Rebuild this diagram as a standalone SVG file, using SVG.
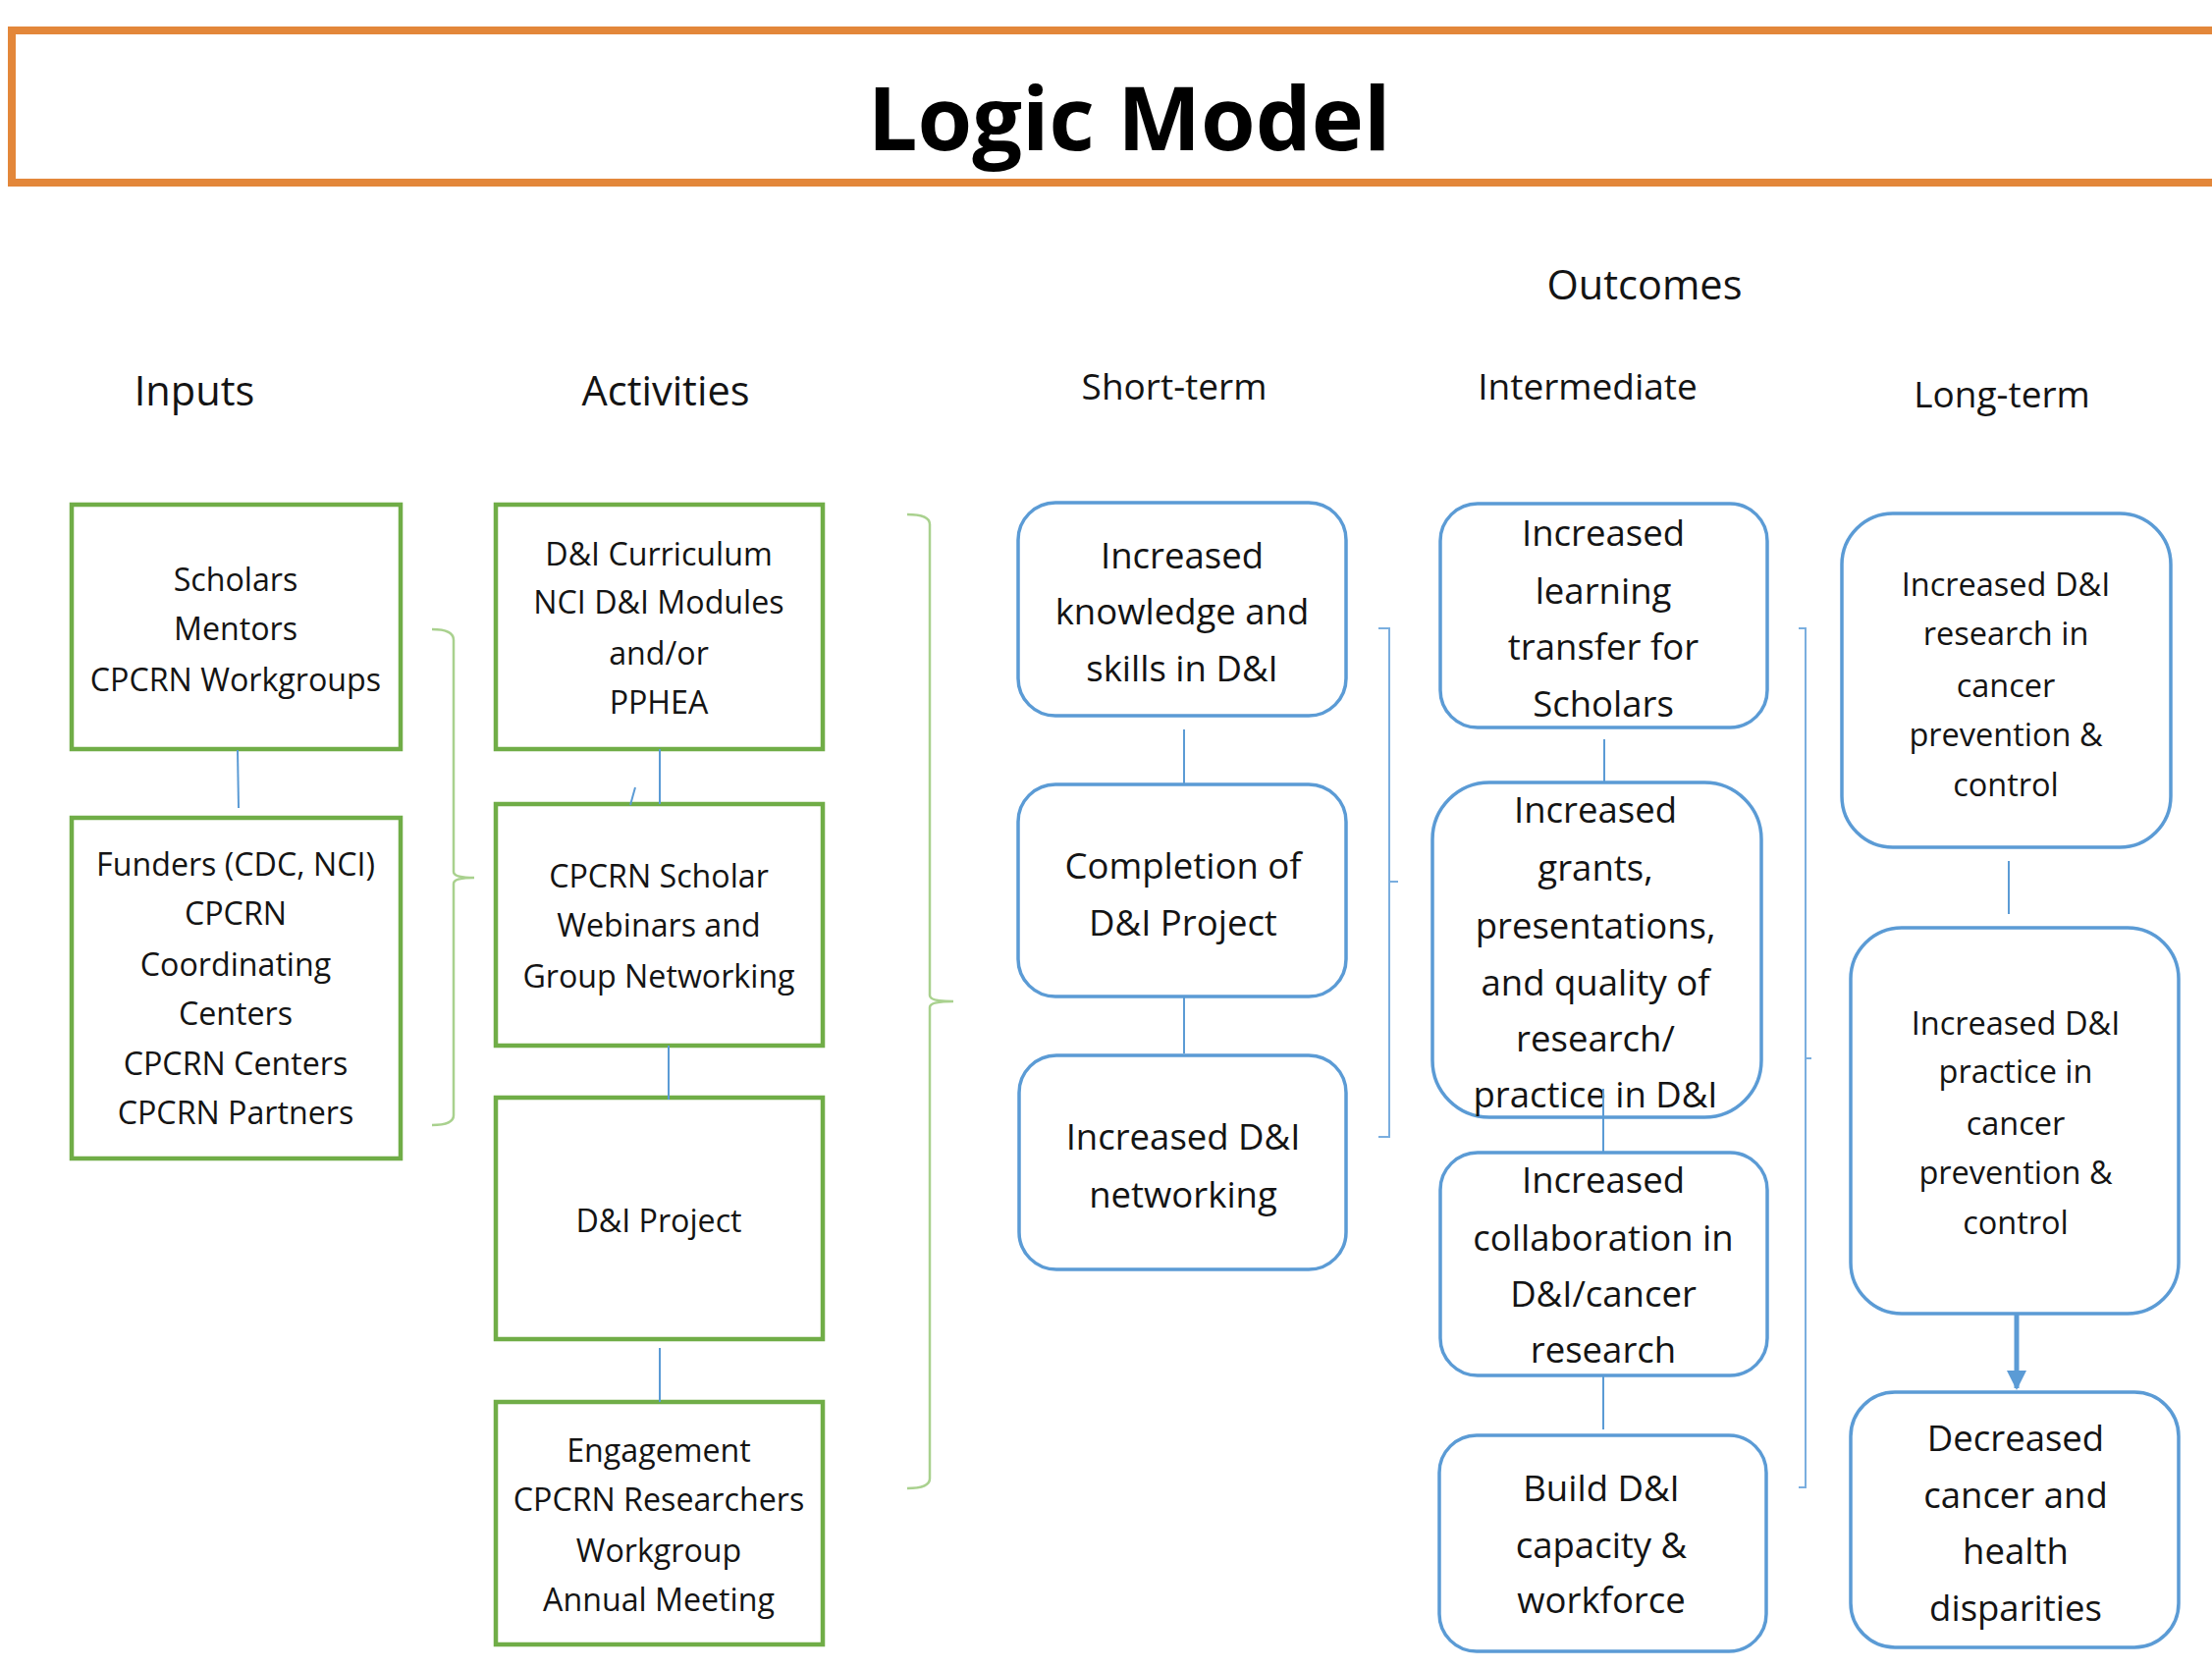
<svg xmlns="http://www.w3.org/2000/svg" width="2253" height="1700" viewBox="0 0 2253 1700">
<style>
.t{font-family:"Open Sans","Liberation Sans",sans-serif;fill:#141414;text-anchor:middle}
.sm{font-size:32.2px}
.md{font-size:32.5px}
.lg{font-size:36.5px}
.h1{font-size:41.5px}
.h2{font-size:37px}
.ttl{font-size:90px;font-weight:bold;fill:#000}
.gbox{fill:#fff;stroke:#70AD47;stroke-width:4.5}
.bbox{fill:#fff;stroke:#5B9BD5;stroke-width:3.5}
.conn{stroke:#5B9BD5;stroke-width:2;fill:none}
.gbr{stroke:#A9D18E;stroke-width:2.5;fill:none}
.bbr{stroke:#7AAEDF;stroke-width:2;fill:none}
</style>
<defs>
<marker id="ah" viewBox="0 0 10 10" refX="9" refY="5" markerWidth="4" markerHeight="4" orient="auto" markerUnits="strokeWidth">
<path d="M0,0 L10,5 L0,10 z" fill="#5B9BD5"/>
</marker>
</defs>
<rect width="2253" height="1700" fill="#fff"/>
<g id="title">
<rect x="12" y="31" width="2260" height="155" fill="none" stroke="#E3873A" stroke-width="8"/>
<text class="t ttl" x="1150" y="153">Logic Model</text>
</g>
<g id="headers">
<text class="t h1" x="1675" y="305">Outcomes</text>
<text class="t h1" x="198" y="413">Inputs</text>
<text class="t h1" x="678" y="413">Activities</text>
<text class="t h2" x="1196" y="407">Short-term</text>
<text class="t h2" x="1617" y="407">Intermediate</text>
<text class="t h2" x="2039" y="415">Long-term</text>
</g>
<g id="in1">
<rect class="gbox" x="73" y="514" width="335" height="249"/>
<text class="t sm" x="240" y="602">Scholars</text>
<text class="t sm" x="240" y="652">Mentors</text>
<text class="t sm" x="240" y="704">CPCRN Workgroups</text>
</g>
<g id="in2">
<rect class="gbox" x="73" y="833" width="335" height="347"/>
<text class="t sm" x="240" y="892">Funders (CDC, NCI)</text>
<text class="t sm" x="240" y="942">CPCRN</text>
<text class="t sm" x="240" y="994">Coordinating</text>
<text class="t sm" x="240" y="1044">Centers</text>
<text class="t sm" x="240" y="1095">CPCRN Centers</text>
<text class="t sm" x="240" y="1145">CPCRN Partners</text>
</g>
<g id="act1">
<rect class="gbox" x="505" y="514" width="333" height="249"/>
<text class="t sm" x="671" y="576">D&amp;I Curriculum</text>
<text class="t sm" x="671" y="625">NCI D&amp;I Modules</text>
<text class="t sm" x="671" y="677">and/or</text>
<text class="t sm" x="671" y="727">PPHEA</text>
</g>
<g id="act2">
<rect class="gbox" x="505" y="819" width="333" height="246"/>
<text class="t sm" x="671" y="904">CPCRN Scholar</text>
<text class="t sm" x="671" y="954">Webinars and</text>
<text class="t sm" x="671" y="1006">Group Networking</text>
</g>
<g id="act3">
<rect class="gbox" x="505" y="1118" width="333" height="246"/>
<text class="t sm" x="671" y="1255">D&amp;I Project</text>
</g>
<g id="act4">
<rect class="gbox" x="505" y="1428" width="333" height="247"/>
<text class="t sm" x="671" y="1489">Engagement</text>
<text class="t sm" x="671" y="1539">CPCRN Researchers</text>
<text class="t sm" x="671" y="1591">Workgroup</text>
<text class="t sm" x="671" y="1641">Annual Meeting</text>
</g>
<g id="st1">
<rect class="bbox" x="1037" y="512" width="334" height="217" rx="38"/>
<text class="t lg" x="1204" y="579">Increased</text>
<text class="t lg" x="1204" y="636">knowledge and</text>
<text class="t lg" x="1204" y="694">skills in D&amp;I</text>
</g>
<g id="st2">
<rect class="bbox" x="1037" y="799" width="334" height="216" rx="38"/>
<text class="t lg" x="1205" y="895">Completion of</text>
<text class="t lg" x="1205" y="953">D&amp;I Project</text>
</g>
<g id="st3">
<rect class="bbox" x="1038" y="1075" width="333" height="218" rx="38"/>
<text class="t lg" x="1205" y="1171">Increased D&amp;I</text>
<text class="t lg" x="1205" y="1230">networking</text>
</g>
<g id="im1">
<rect class="bbox" x="1467" y="513" width="333" height="228" rx="38"/>
<text class="t lg" x="1633" y="556">Increased</text>
<text class="t lg" x="1633" y="615">learning</text>
<text class="t lg" x="1633" y="672">transfer for</text>
<text class="t lg" x="1633" y="730">Scholars</text>
</g>
<g id="im2">
<rect class="bbox" x="1459" y="797" width="335" height="341" rx="58"/>
<text class="t lg" x="1625" y="838">Increased</text>
<text class="t lg" x="1625" y="897">grants,</text>
<text class="t lg" x="1625" y="956">presentations,</text>
<text class="t lg" x="1625" y="1014">and quality of</text>
<text class="t lg" x="1625" y="1071">research/</text>
<text class="t lg" x="1625" y="1128">practice in D&amp;I</text>
</g>
<g id="im3">
<rect class="bbox" x="1467" y="1174" width="333" height="227" rx="38"/>
<text class="t lg" x="1633" y="1215">Increased</text>
<text class="t lg" x="1633" y="1274">collaboration in</text>
<text class="t lg" x="1633" y="1331">D&amp;I/cancer</text>
<text class="t lg" x="1633" y="1388">research</text>
</g>
<g id="im4">
<rect class="bbox" x="1466" y="1462" width="333" height="220" rx="38"/>
<text class="t lg" x="1631" y="1529">Build D&amp;I</text>
<text class="t lg" x="1631" y="1587">capacity &amp;</text>
<text class="t lg" x="1631" y="1643">workforce</text>
</g>
<g id="lt1">
<rect class="bbox" x="1876" y="523" width="335" height="340" rx="52"/>
<text class="t md" x="2043" y="607">Increased D&amp;I</text>
<text class="t md" x="2043" y="657">research in</text>
<text class="t md" x="2043" y="710">cancer</text>
<text class="t md" x="2043" y="760">prevention &amp;</text>
<text class="t md" x="2043" y="811">control</text>
</g>
<g id="lt2">
<rect class="bbox" x="1885" y="945" width="334" height="393" rx="52"/>
<text class="t md" x="2053" y="1054">Increased D&amp;I</text>
<text class="t md" x="2053" y="1103">practice in</text>
<text class="t md" x="2053" y="1156">cancer</text>
<text class="t md" x="2053" y="1206">prevention &amp;</text>
<text class="t md" x="2053" y="1257">control</text>
</g>
<g id="lt3">
<rect class="bbox" x="1885" y="1418" width="334" height="260" rx="45"/>
<text class="t lg" x="2053" y="1478">Decreased</text>
<text class="t lg" x="2053" y="1536">cancer and</text>
<text class="t lg" x="2053" y="1593">health</text>
<text class="t lg" x="2053" y="1651">disparities</text>
</g>
<g id="connectors">
<line class="conn" x1="242" y1="764" x2="243" y2="823"/>
<line class="conn" x1="672" y1="763" x2="672" y2="819"/>
<line class="conn" x1="647" y1="802" x2="642" y2="820"/>
<line class="conn" x1="681" y1="1065" x2="681" y2="1120"/>
<line class="conn" x1="672" y1="1373" x2="672" y2="1428"/>
<line class="conn" x1="1206" y1="743" x2="1206" y2="798"/>
<line class="conn" x1="1206" y1="1016" x2="1206" y2="1073"/>
<line class="conn" x1="1634" y1="753" x2="1634" y2="796"/>
<line class="conn" x1="1633" y1="1109" x2="1633" y2="1174"/>
<line class="conn" x1="1633" y1="1401" x2="1633" y2="1456"/>
<line class="conn" x1="2046" y1="877" x2="2046" y2="931"/>
<line stroke="#5B9BD5" stroke-width="5" x1="2054" y1="1339" x2="2054" y2="1414" marker-end="url(#ah)"/>
<path class="gbr" d="M440 641 Q462 641 462 652 L462 888 Q462 894 483 894 Q462 894 462 900 L462 1136 Q462 1146 440 1146"/>
<path class="gbr" d="M924 524 Q947 524 947 534 L947 1014 Q947 1020 971 1020 Q947 1020 947 1026 L947 1506 Q947 1516 924 1516"/>
<path class="bbr" d="M1404 640 L1415 640 L1415 1158 L1404 1158 M1415 898 L1424 898"/>
<path class="bbr" d="M1832 640 L1839 640 L1839 1515 L1832 1515 M1839 1078 L1845 1078"/>
</g>
</svg>
